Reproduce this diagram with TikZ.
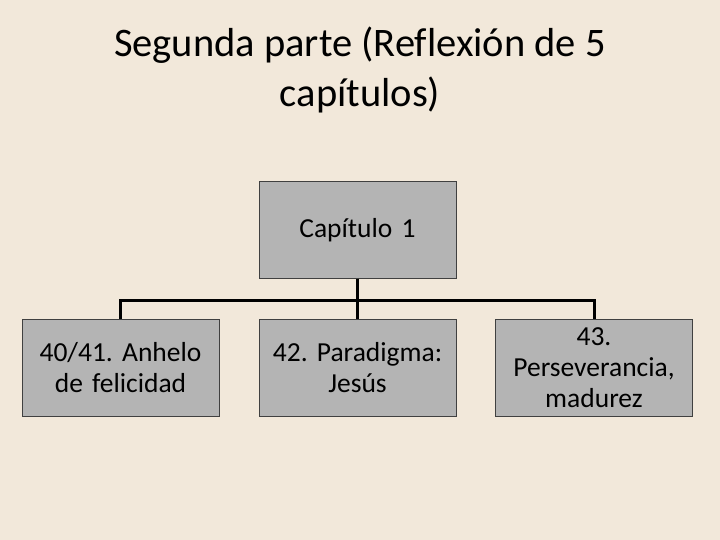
\documentclass[tikz,border=0pt]{standalone}
\usepackage{fontspec}
\setmainfont[Ligatures=NoCommon]{Carlito}
\usepackage{xcolor}
\definecolor{fondo}{RGB}{242,232,218}
\definecolor{caja}{RGB}{180,180,180}
\definecolor{borde}{RGB}{64,64,64}
\usetikzlibrary{positioning}
\frenchspacing

\begin{document}
\begin{tikzpicture}[x=1pt,y=-1pt,
  caja/.style={draw=borde,fill=caja,line width=0.8pt,minimum width=197pt,minimum height=97pt,
    text width=195pt,align=center,font=\fontsize{27.5}{31}\selectfont,inner sep=1pt},
  conector/.style={line width=3pt}]
\fill[fondo](0,0)rectangle(720,540);
\node[align=center,font=\fontsize{40.5}{50}\selectfont](titulo)at(360,70){Segunda parte (Reflexión de 5\\capítulos)};
\node[caja](cap)at(357.5,230){Capítulo 1};
\node[caja](anhelo)at(120.5,368){40/41. Anhelo\\de felicidad};
\node[caja](paradigma)at(357.5,368){42. Paradigma:\\Jesús};
\node[caja](perse)at(594,368){43.\\Perseverancia,\\madurez};
\draw[conector](cap.south)--(paradigma.north);
\draw[conector](cap.south)--++(0,22)-|(anhelo.north);
\draw[conector](cap.south)--++(0,22)-|(perse.north);
\end{tikzpicture}
\end{document}
